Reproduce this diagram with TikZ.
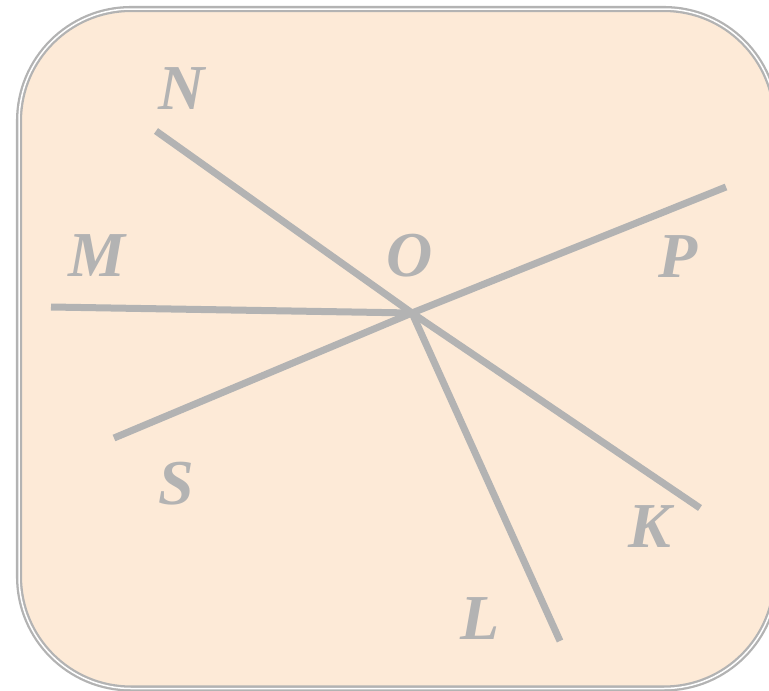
\documentclass[tikz,border=0pt]{standalone}
\usepackage{fontspec}
\setmainfont{Liberation Serif}[BoldItalicFont={Liberation Serif Bold Italic}]
\usepackage{xcolor}
\definecolor{peach}{HTML}{FDEAD7}
\definecolor{ray}{HTML}{B3B3B3}

\begin{document}
\begin{tikzpicture}[x=1pt,y=-1pt,
  lab/.style={text=ray,font=\fontsize{64}{64}\selectfont\bfseries\itshape,inner sep=0pt},
  rayline/.style={draw=ray,line width=7pt}]
\useasboundingbox (0,0) rectangle (769,691);
\draw[fill=peach,draw=ray,line width=2.3pt,double=white,double distance=1.5pt,rounded corners=112pt]
  (19,9) rectangle (776,688.5);
\coordinate (o) at (412,313);
\coordinate (n) at (156,131);
\coordinate (m) at (51,307);
\coordinate (p) at (726,187);
\coordinate (s) at (114,438);
\coordinate (k) at (700,508);
\coordinate (l) at (560,641);
\path (o) edge [rayline] (n);
\path (o) edge [rayline] (m);
\path (o) edge [rayline] (p);
\path (o) edge [rayline] (s);
\path (o) edge [rayline] (k);
\path (o) edge [rayline] (l);
\node[lab] (ln) at (182,89) {N};
\node[lab] (lm) at (97,256) {M};
\node[lab] (lo) at (410,256) {O};
\node[lab] (lp) at (678,257) {P};
\node[lab] (ls) at (176,484) {S};
\node[lab] (lk) at (650,527) {K};
\node[lab] (ll) at (480,619) {L};
\end{tikzpicture}
\end{document}
